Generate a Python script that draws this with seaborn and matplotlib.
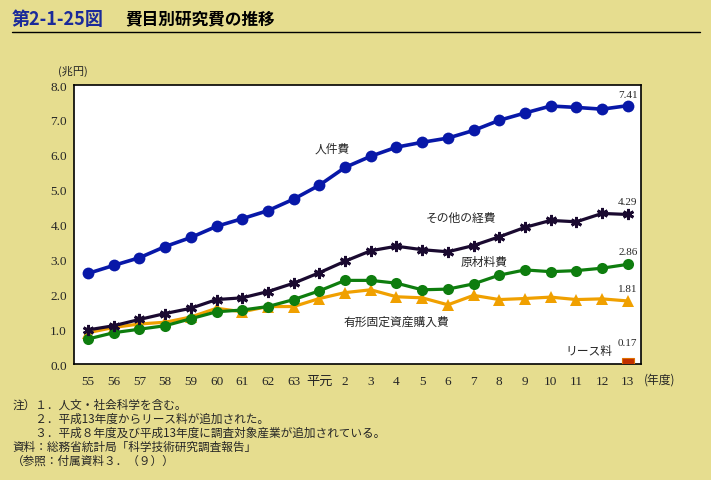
import numpy as np
import pandas as pd
import matplotlib.pyplot as plt
import seaborn as sns

# 年度ラベル
years = ['55', '56', '57', '58', '59', '60', '61', '62', '63', '平元',
         '2', '3', '4', '5', '6', '7', '8', '9', '10', '11', '12', '13']

# 兆円
jinken = [2.60, 2.83, 3.05, 3.37, 3.63, 3.95, 4.17, 4.40, 4.73, 5.13, 5.64,
          5.96, 6.22, 6.36, 6.48, 6.70, 6.99, 7.20, 7.40, 7.36, 7.31, 7.41]
sonota = [0.98, 1.10, 1.28, 1.45, 1.60, 1.85, 1.90, 2.08, 2.32, 2.62, 2.95,
          3.25, 3.38, 3.28, 3.22, 3.40, 3.65, 3.92, 4.12, 4.08, 4.32, 4.29]
genzai = [0.72, 0.90, 1.00, 1.10, 1.30, 1.50, 1.55, 1.65, 1.85, 2.10, 2.40,
          2.40, 2.32, 2.13, 2.15, 2.30, 2.55, 2.70, 2.65, 2.68, 2.75, 2.86]
yukei = [0.90, 1.05, 1.15, 1.20, 1.35, 1.60, 1.50, 1.65, 1.65, 1.88, 2.05,
         2.13, 1.93, 1.90, 1.70, 1.97, 1.85, 1.88, 1.92, 1.85, 1.87, 1.81]
lease = 0.17

bg = '#E6DD8F'
jp = ['Noto Sans CJK JP', 'DejaVu Sans']
num = ['Liberation Serif', 'Noto Sans CJK JP']

sns.set_style('white')
plt.rcParams['font.family'] = num

x = np.arange(len(years))
df = pd.DataFrame({'x': x, 'jinken': jinken, 'sonota': sonota,
                   'genzai': genzai, 'yukei': yukei})

fig = plt.figure(figsize=(7.11, 4.81), dpi=100, facecolor=bg)
ax = fig.add_axes([0.104, 0.241, 0.797, 0.580])
ax.set_facecolor('white')

sns.lineplot(data=df, x='x', y='yukei', ax=ax, color='#F0A000', lw=2.3,
             marker='^', markersize=8, markeredgewidth=0, zorder=3)
sns.lineplot(data=df, x='x', y='genzai', ax=ax, color='#0E7D0E', lw=2.3,
             marker='o', markersize=8, markeredgewidth=0, zorder=4)
sns.lineplot(data=df, x='x', y='sonota', ax=ax, color='#1A0A30', lw=2.3,
             marker=(6, 2, 0), markersize=8, markeredgewidth=2,
             markeredgecolor='#1A0A30', zorder=5)
sns.lineplot(data=df, x='x', y='jinken', ax=ax, color='#0818A8', lw=2.6,
             marker='o', markersize=8.5, markeredgewidth=0, zorder=6)
ax.bar(x[-1], lease, width=0.45, color='#C03000', edgecolor='#E07000',
       linewidth=0.8, zorder=3)

ax.set_xlim(-0.55, 21.5)
ax.set_ylim(0, 8)
ax.set_yticks(np.arange(0, 8.1, 1))
ax.set_yticklabels([f'{v:.1f}' for v in np.arange(0, 8.1, 1)], fontsize=9.5)
ax.set_xticks(x)
ax.set_xticklabels(years, fontsize=9.5)
ax.set_xticks(x[:-1] + 0.5, minor=True)
ax.tick_params(axis='x', which='major', length=0, pad=8)
ax.tick_params(axis='x', which='minor', direction='in', length=4,
               color='#303030')
ax.tick_params(axis='y', length=3, color='#606060', pad=2)
for lbl in ax.get_xticklabels():
    lbl.set_family(num)
ax.set_xlabel('')
ax.set_ylabel('')
for s in ax.spines.values():
    s.set_color('black')
    s.set_linewidth(1.2)

# 系列名・値ラベル
ax.text(9.5, 6.2, '人件費', fontsize=8.5, family=jp, ha='center', va='center')
ax.text(14.5, 4.2, 'その他の経費', fontsize=8.5, family=jp, ha='center', va='center')
ax.text(15.4, 2.95, '原材料費', fontsize=8.5, family=jp, ha='center', va='center')
ax.text(12.0, 1.22, '有形固定資産購入費', fontsize=8.5, family=jp, ha='center', va='center')
ax.text(19.5, 0.38, 'リース料', fontsize=8.5, family=jp, ha='center', va='center')
for v, dy in [(jinken[-1], 0.33), (sonota[-1], 0.36), (genzai[-1], 0.36),
              (yukei[-1], 0.36)]:
    ax.text(x[-1], v + dy, f'{v:.2f}', fontsize=8, ha='center', va='center')
ax.text(x[-1], lease + 0.45, f'{lease:.2f}', fontsize=8, ha='center', va='center')

fig.text(0.082, 0.851, '(兆円)', fontsize=8, family=jp, ha='left', va='center')
fig.text(0.905, 0.209, '(年度)', fontsize=8.5, family=jp, ha='left', va='center')

# タイトル
fig.text(0.017, 0.960, '第2-1-25図', fontsize=13, family=jp,
         fontweight='bold', color='#1A2A9A', va='center')
fig.text(0.176, 0.960, '費目別研究費の推移', fontsize=12, family=jp,
         fontweight='bold', color='black', va='center')
fig.add_artist(plt.Line2D([0.017, 0.985], [0.931, 0.931], color='black', lw=1))

notes = ['注）１．人文・社会科学を含む。',
         '　　２．平成13年度からリース料が追加された。',
         '　　３．平成８年度及び平成13年度に調査対象産業が追加されている。',
         '資料：総務省統計局「科学技術研究調査報告」',
         '（参照：付属資料３．（９））']
for i, t in enumerate(notes):
    fig.text(0.017, 0.158 - i * 0.0291, t, fontsize=8.4, family=jp,
             ha='left', va='center')

fig.savefig('out.png', dpi=100, facecolor=bg)
